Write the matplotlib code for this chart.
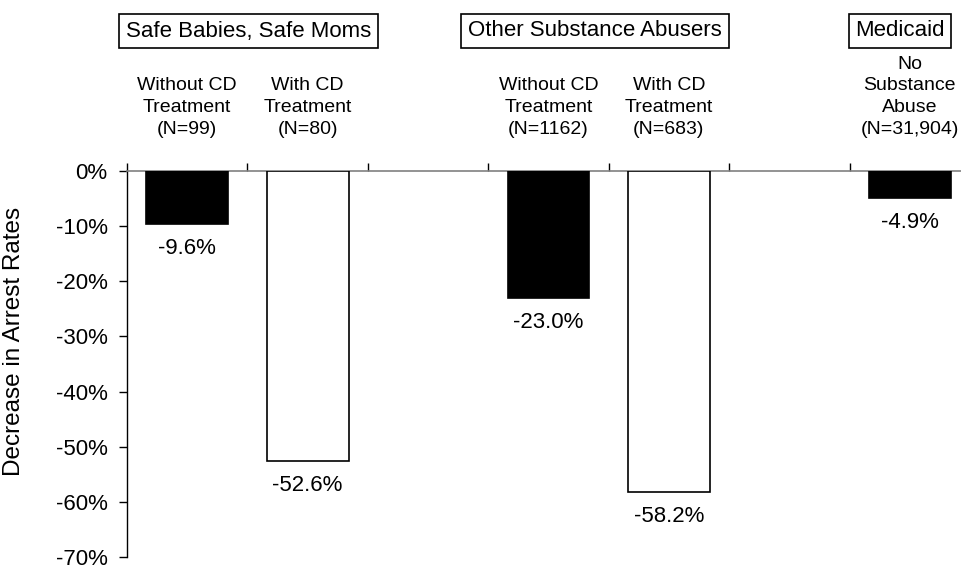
import matplotlib
matplotlib.use("Agg")
import matplotlib.pyplot as plt
from matplotlib.ticker import FuncFormatter
import numpy as np

plt.rcParams['font.family'] = ['Liberation Sans', 'DejaVu Sans']

# Slot layout: two bars per study group, with an empty slot between groups
slot_labels = [
    "Without CD\nTreatment\n(N=99)",
    "With CD\nTreatment\n(N=80)",
    "",
    "Without CD\nTreatment\n(N=1162)",
    "With CD\nTreatment\n(N=683)",
    "",
    "No\nSubstance\nAbuse\n(N=31,904)",
]
bar_slots = [0, 1, 3, 4, 6]
bar_values = [-9.6, -52.6, -23.0, -58.2, -4.9]
bar_fills = ["black", "white", "black", "white", "black"]
value_labels = ["-9.6%", "-52.6%", "-23.0%", "-58.2%", "-4.9%"]

group_titles = ["Safe Babies, Safe Moms", "Other Substance Abusers", "Medicaid"]
group_title_x = [248.5, 595, 900]   # pixel centres across the top

y_ticks = [0, -10, -20, -30, -40, -50, -60, -70]

W, H = 961, 569
ax_left, ax_right, ax_top, ax_bottom = 127, 970, 171, 557
fig = plt.figure(figsize=(W / 100, H / 100), dpi=100)
ax = fig.add_axes([ax_left / W, 1 - ax_bottom / H,
                   (ax_right - ax_left) / W, (ax_bottom - ax_top) / H])

ax.bar(bar_slots, bar_values, width=0.68, color=bar_fills,
       edgecolor="black", linewidth=1.2, zorder=3)

ax.set_xlim(-0.5, 6.5)
ax.set_ylim(-70, 0)

# spines
for s in ["right", "bottom"]:
    ax.spines[s].set_visible(False)
ax.spines["top"].set_color("#808080")
ax.spines["top"].set_linewidth(1.2)
ax.spines["left"].set_color("black")
ax.spines["left"].set_linewidth(1.0)

# x ticks at slot boundaries, drawn upward from the zero line
ax.xaxis.tick_top()
ax.set_xticks(np.arange(-0.5, 7, 1.0))
ax.set_xticklabels([])
ax.tick_params(axis="x", direction="out", length=6, width=1.0, color="black")

ax.set_yticks(y_ticks)
ax.yaxis.set_major_formatter(FuncFormatter(lambda v, p: f"{v:.0f}%"))
ax.tick_params(axis="y", direction="out", length=6, width=1.0,
               labelsize=16, pad=8)
ax.set_ylabel("Decrease in Arrest Rates", fontsize=17.5)
ax.yaxis.set_label_coords((25 - ax_left) / (ax_right - ax_left),
                          (ax_bottom - 341) / (ax_bottom - ax_top))

# category labels above the bars
for i, lab in enumerate(slot_labels):
    if lab:
        ax.annotate(lab, xy=(i, 0), xytext=(0, 24), textcoords="offset points",
                    ha="center", va="bottom", multialignment="center",
                    fontsize=14, linespacing=1.36, annotation_clip=False)

# value labels under each bar
for x, v, t in zip(bar_slots, bar_values, value_labels):
    ax.annotate(t, xy=(x, v), xytext=(0, -17.5), textcoords="offset points",
                ha="center", va="center", fontsize=16)

# boxed group titles
for t, px in zip(group_titles, group_title_x):
    fig.text(px / W, 1 - 31 / H, t, ha="center", va="center", fontsize=16,
             bbox=dict(boxstyle="square,pad=0.3", facecolor="white",
                       edgecolor="black", linewidth=1.2))

fig.savefig("out.png", dpi=100)
